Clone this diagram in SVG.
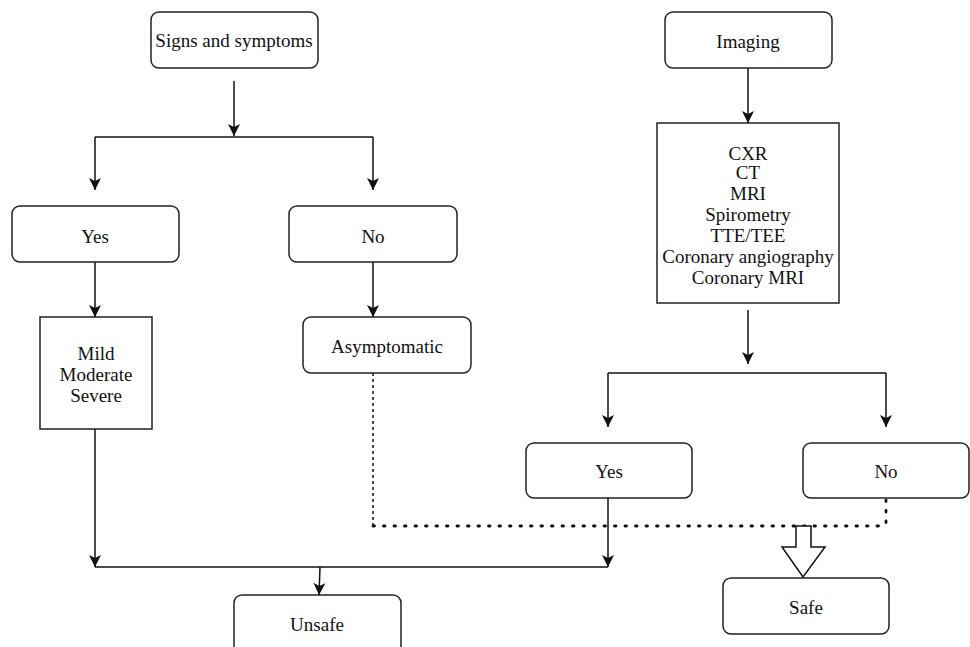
<svg xmlns="http://www.w3.org/2000/svg" width="970" height="647" viewBox="0 0 970 647">
<style>
.box{fill:#fff;stroke:#222;stroke-width:1.5}
.t{font-family:"Liberation Serif","Times New Roman",serif;font-size:19px;fill:#111;text-anchor:middle;dominant-baseline:central}
.ln{fill:none;stroke:#111;stroke-width:1.5}
.dot{fill:none;stroke:#111;stroke-width:2.8;stroke-dasharray:1.5 9;stroke-linecap:round}
.dash{fill:none;stroke:#111;stroke-width:1.5;stroke-dasharray:3 3}
</style>
<defs>
<marker id="ah" viewBox="0 0 12 14" refX="12" refY="7" markerWidth="14" markerHeight="14" markerUnits="userSpaceOnUse" orient="auto">
<path d="M0,1 L12,7 L0,13 L3,7 Z" fill="#111"/>
</marker>
</defs>
<rect width="970" height="647" fill="#fff"/>
<g id="connectors">
<path class="ln" d="M234,81 V136" marker-end="url(#ah)"/>
<path class="ln" d="M95,137 H373"/>
<path class="ln" d="M95,137 V190" marker-end="url(#ah)"/>
<path class="ln" d="M373,137 V190" marker-end="url(#ah)"/>
<path class="ln" d="M95,262 V317" marker-end="url(#ah)"/>
<path class="ln" d="M373,262 V317" marker-end="url(#ah)"/>
<path class="ln" d="M748,68 V123" marker-end="url(#ah)"/>
<path class="ln" d="M748,310 V364" marker-end="url(#ah)"/>
<path class="ln" d="M608,373 H886"/>
<path class="ln" d="M608,373 V427" marker-end="url(#ah)"/>
<path class="ln" d="M886,373 V427" marker-end="url(#ah)"/>
<path class="ln" d="M95,429 V567" marker-end="url(#ah)"/>
<path class="ln" d="M608,498 V567" marker-end="url(#ah)"/>
<path class="ln" d="M95,567 H608"/>
<path class="ln" d="M320,567 L319,595" marker-end="url(#ah)"/>
<path class="dash" d="M373,373 V526"/>
<path class="dot" d="M373,526 H886"/>
<path class="dot" d="M886,500 V526"/>
<path d="M796,526 H811 V547 H825 L803,577 L782,547 H796 Z" fill="#fff" stroke="#111" stroke-width="1.5"/>
</g>
<g id="signs"><rect class="box" x="151" y="12" width="167" height="56" rx="8"/><text class="t" x="234" y="40">Signs and symptoms</text></g>
<g id="imaging"><rect class="box" x="665" y="12" width="167" height="56" rx="8"/><text class="t" x="748" y="41">Imaging</text></g>
<g id="tests"><rect class="box" x="657" y="123" width="182" height="180"/>
<text class="t" x="748" y="153">CXR</text>
<text class="t" x="748" y="172">CT</text>
<text class="t" x="748" y="193">MRI</text>
<text class="t" x="748" y="214">Spirometry</text>
<text class="t" x="748" y="235">TTE/TEE</text>
<text class="t" x="748" y="256">Coronary angiography</text>
<text class="t" x="748" y="277">Coronary MRI</text>
</g>
<g id="yes1"><rect class="box" x="12" y="206" width="167" height="56" rx="8"/><text class="t" x="95" y="236">Yes</text></g>
<g id="no1"><rect class="box" x="289" y="206" width="168" height="56" rx="8"/><text class="t" x="373" y="236">No</text></g>
<g id="severity"><rect class="box" x="40" y="317" width="112" height="112"/>
<text class="t" x="96" y="353">Mild</text>
<text class="t" x="96" y="374">Moderate</text>
<text class="t" x="96" y="395">Severe</text>
</g>
<g id="asymptomatic"><rect class="box" x="303" y="317" width="168" height="56" rx="8"/><text class="t" x="387" y="346">Asymptomatic</text></g>
<g id="yes2"><rect class="box" x="526" y="443" width="166" height="55" rx="8"/><text class="t" x="609" y="471">Yes</text></g>
<g id="no2"><rect class="box" x="803" y="443" width="166" height="55" rx="8"/><text class="t" x="886" y="471">No</text></g>
<g id="unsafe"><rect class="box" x="234" y="595" width="167" height="60" rx="8"/><text class="t" x="317" y="624">Unsafe</text></g>
<g id="safe"><rect class="box" x="723" y="578" width="166" height="56" rx="8"/><text class="t" x="806" y="607">Safe</text></g>
</svg>
